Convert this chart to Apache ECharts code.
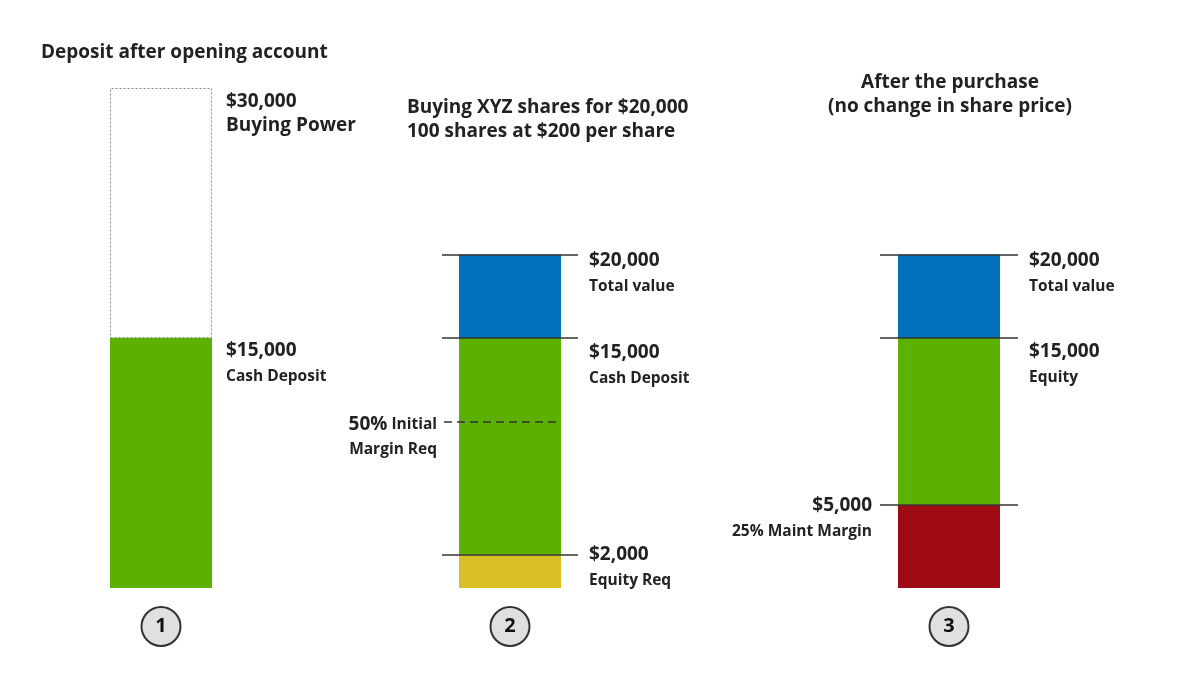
<!DOCTYPE html>
<html>
<head>
<meta charset="utf-8">
<script src="https://cdn.jsdelivr.net/npm/echarts@6/dist/echarts.min.js"></script>
<style>
  html, body { margin: 0; background: #fff; }
  #chart { width: 1200px; height: 675px; }
</style>
</head>
<body>
<div id="chart"></div>
<script>
// step numbers under each bar
const steps = ['1', '2', '3'];

// cumulative levels of each bar, bottom to top
const depositLevels = [15000, 30000];
const depositNames = ['Cash Deposit', 'Buying Power'];
const purchaseLevels = [2000, 15000, 20000];
const purchaseNames = ['Equity Req', 'Cash Deposit', 'Total value'];
const afterLevels = [5000, 15000, 20000];
const afterNames = ['25% Maint Margin', 'Equity', 'Total value'];
const initialMarginLevel = 10000;

const titles = [
  'Deposit after opening account',
  'Buying XYZ shares for $20,000\n100 shares at $200 per share',
  'After the purchase\n(no change in share price)'
];

const FONT = 'Open Sans';
const W = 'bold';
const INK = '#222';
const green = '#5bb000', blue = '#0070bb', gold = '#d8bf27', red = '#9e0b12';

const rich = {
  v: { fontFamily: FONT, fontSize: 19, fontWeight: W, lineHeight: 24, color: INK },
  s: { fontFamily: FONT, fontSize: 15.5, fontWeight: W, lineHeight: 28, color: INK }
};
const money = (n) => '$' + n.toLocaleString('en-US');

// one bar series per segment, stacked inside its own grid
function segments(g, levels, names, styles, labels) {
  return levels.map((lvl, i) => ({
    type: 'bar',
    xAxisIndex: g,
    yAxisIndex: g,
    stack: 'bar' + g,
    barWidth: 102,
    silent: true,
    data: [lvl - (i ? levels[i - 1] : 0)],
    itemStyle: styles[i],
    label: {
      show: true,
      position: labels[i].pos,
      align: labels[i].align || 'left',
      verticalAlign: 'top',
      formatter: () => '{v|' + money(lvl) + '}\n{' + (labels[i].sub || 's') + '|' + names[i] + '}',
      rich: rich
    }
  }));
}

const levelLines = (levels) => ({
  silent: true,
  symbol: 'none',
  label: { show: false },
  lineStyle: { color: '#333', width: 1.5, type: 'solid' },
  data: levels.map(v => ({ yAxis: v }))
});

const series = [].concat(
  segments(0, depositLevels, depositNames,
    [{ color: green },
     { color: 'rgba(255,255,255,0)', borderColor: '#888', borderWidth: 1, borderType: [2, 2] }],
    [{ pos: [116, 0.5] }, { pos: [116, 1.5], sub: 'v' }]),
  segments(1, purchaseLevels, purchaseNames,
    [{ color: gold }, { color: green }, { color: blue }],
    [{ pos: [130, -12] }, { pos: [130, 2.5] }, { pos: [130, -6.5] }]),
  segments(2, afterLevels, afterNames,
    [{ color: red }, { color: green }, { color: blue }],
    [{ pos: [-26, -11.5], align: 'right' }, { pos: [131, 1.5] }, { pos: [131, -6.5] }])
);
series[4].markLine = levelLines(purchaseLevels);
series[7].markLine = levelLines(afterLevels);

// dashed initial-margin line in the middle bar
series.push({
  type: 'line',
  xAxisIndex: 3,
  yAxisIndex: 1,
  data: [],
  markLine: {
    silent: true,
    symbol: 'none',
    lineStyle: { color: '#333', width: 1.5, type: [8, 5] },
    label: {
      show: true,
      position: 'start',
      distance: 7,
      padding: [32, 0, 0, 0],
      formatter: () => '{big|50%}{mid| Initial}\n{mid|Margin Req}',
      rich: {
        big: { fontFamily: FONT, fontSize: 19, fontWeight: W, lineHeight: 25, color: INK },
        mid: { fontFamily: FONT, fontSize: 15.5, fontWeight: W, lineHeight: 25, color: INK }
      }
    },
    data: [[{ coord: [-0.97, initialMarginLevel] }, { coord: [0.74, initialMarginLevel] }]]
  }
});

const titleStyle = { fontFamily: FONT, fontSize: 19, fontWeight: W, lineHeight: 24, color: INK };
const gridBoxes = [
  { left: 91, top: 88, width: 140, height: 500 },
  { left: 442, top: 88, width: 136, height: 500 },
  { left: 880, top: 88, width: 138, height: 500 }
];

const option = {
  animation: false,
  backgroundColor: '#fff',
  title: [
    { text: titles[0], left: 41, top: 41, padding: 0, textAlign: 'left', textVerticalAlign: 'top', textStyle: titleStyle },
    { text: titles[1], left: 407, top: 96, padding: 0, textAlign: 'left', textVerticalAlign: 'top', textStyle: titleStyle },
    { text: titles[2], left: 950, top: 71, padding: 0, textAlign: 'center', textVerticalAlign: 'top', textStyle: titleStyle }
  ],
  grid: gridBoxes,
  xAxis: steps.map((s, i) => ({
    type: 'category',
    gridIndex: i,
    data: [s],
    axisLine: { show: false },
    axisTick: { show: false },
    axisLabel: {
      margin: 20,
      formatter: (v) => '{c|' + v + '}',
      rich: {
        c: {
          width: 37, height: 37, lineHeight: 37, align: 'center',
          borderRadius: 20, borderWidth: 2, borderColor: '#333',
          backgroundColor: '#e0e0e0',
          fontFamily: FONT, fontSize: 20, fontWeight: 'bold', color: '#111'
        }
      }
    }
  })).concat([{ type: 'value', gridIndex: 1, min: -1, max: 1, show: false }]),
  yAxis: steps.map((s, i) => ({
    type: 'value', gridIndex: i, min: 0, max: 30000, show: false
  })),
  series: series
};

const chart = echarts.init(document.getElementById('chart'));
chart.setOption(option);
</script>
</body>
</html>
